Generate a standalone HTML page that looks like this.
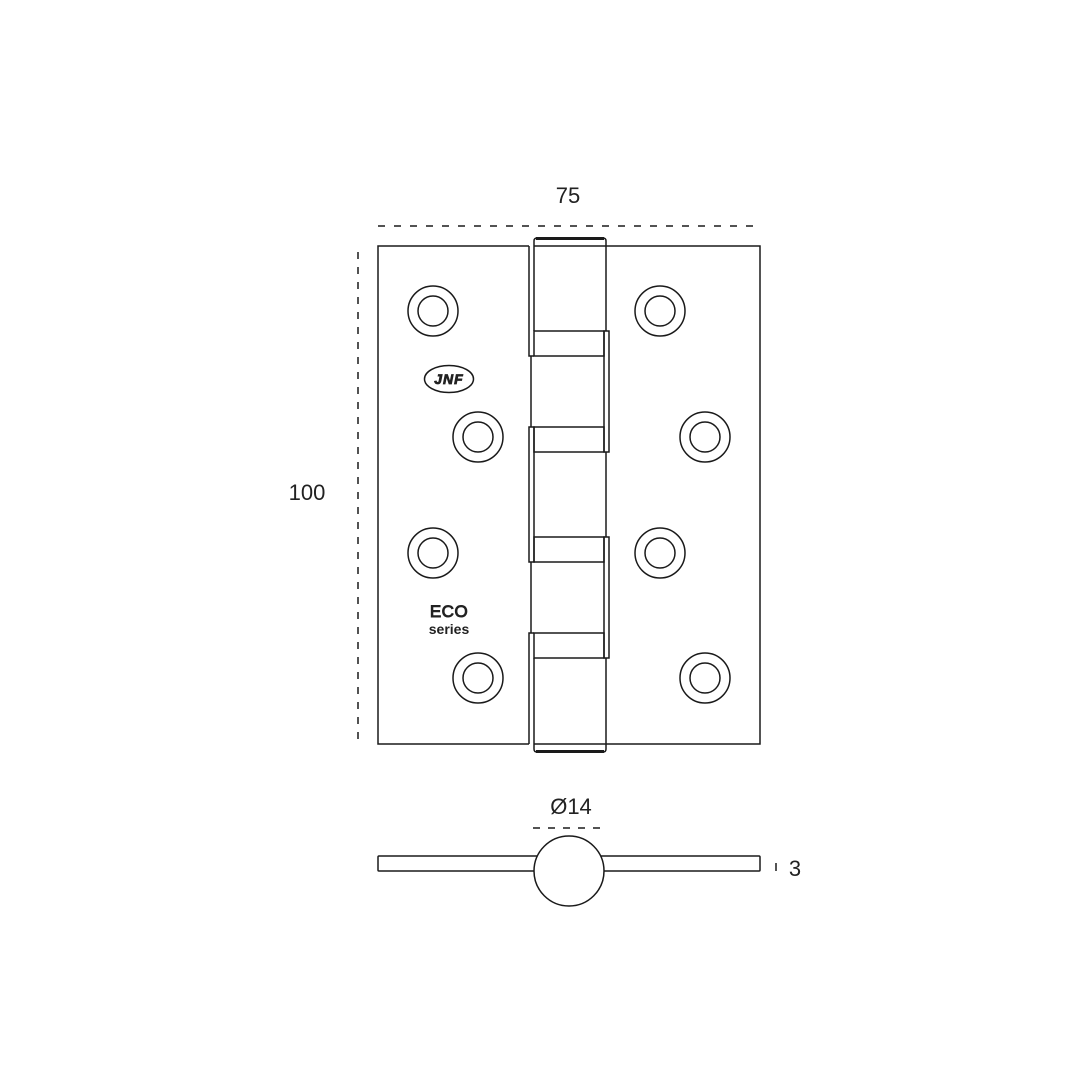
<!DOCTYPE html>
<html><head><meta charset="utf-8"><style>
html,body{margin:0;padding:0;background:#fff}
svg{display:block}
text{font-family:"Liberation Sans",sans-serif;fill:#222}
</style></head><body>
<svg width="1088" height="1088" viewBox="0 0 1088 1088" xmlns="http://www.w3.org/2000/svg">
<g fill="none" stroke="#1a1a1a" stroke-width="1.5">
<!-- dimension lines -->
<line x1="378" y1="226" x2="758" y2="226" stroke-dasharray="7,9"/>
<line x1="358" y1="252" x2="358" y2="744" stroke-dasharray="7,8"/>
<line x1="533" y1="828" x2="607" y2="828" stroke-dasharray="7,8"/>
<line x1="776" y1="863" x2="776" y2="871"/>
<!-- leaves -->
<polyline points="529,246 378,246 378,744 529,744"/>
<polyline points="606,246 760,246 760,744 606,744"/>
<line x1="534" y1="246" x2="606" y2="246"/>
<line x1="534" y1="744" x2="606" y2="744"/>
<!-- top knuckle -->
<path d="M534,331 L534,241 Q534,238 537,238 L603,238 Q606,238 606,241 L606,331"/>
<line x1="536" y1="238.5" x2="604" y2="238.5" stroke-width="3"/>
<!-- left strip top -->
<polyline points="529,246 529,356 534,356"/>
<!-- band 1 -->
<rect x="534" y="331" width="70" height="25"/>
<rect x="604" y="331" width="5" height="121"/>
<line x1="531" y1="356" x2="531" y2="427"/>
<!-- band 2 -->
<rect x="534" y="427" width="70" height="25"/>
<rect x="529" y="427" width="5" height="135"/>
<line x1="606" y1="452" x2="606" y2="537"/>
<!-- band 3 -->
<rect x="534" y="537" width="70" height="25"/>
<rect x="604" y="537" width="5" height="121"/>
<line x1="531" y1="562" x2="531" y2="633"/>
<!-- band 4 -->
<rect x="534" y="633" width="70" height="25"/>
<polyline points="534,633 529,633 529,744"/>
<!-- bottom knuckle -->
<path d="M534,658 L534,749 Q534,752 537,752 L603,752 Q606,752 606,749 L606,658"/>
<line x1="536" y1="751.5" x2="604" y2="751.5" stroke-width="3"/>
<!-- holes -->
<g>
<circle cx="433" cy="311" r="25"/><circle cx="433" cy="311" r="15"/>
<circle cx="478" cy="437" r="25"/><circle cx="478" cy="437" r="15"/>
<circle cx="433" cy="553" r="25"/><circle cx="433" cy="553" r="15"/>
<circle cx="478" cy="678" r="25"/><circle cx="478" cy="678" r="15"/>
<circle cx="660" cy="311" r="25"/><circle cx="660" cy="311" r="15"/>
<circle cx="705" cy="437" r="25"/><circle cx="705" cy="437" r="15"/>
<circle cx="660" cy="553" r="25"/><circle cx="660" cy="553" r="15"/>
<circle cx="705" cy="678" r="25"/><circle cx="705" cy="678" r="15"/>
</g>
<!-- JNF logo -->
<ellipse cx="449" cy="379" rx="24.5" ry="13.5"/>
<!-- end view -->
<rect x="378" y="856" width="382" height="15" rx="1"/>
<circle cx="569" cy="871" r="35" fill="#fff"/>
</g>
<text x="449" y="384" font-size="14" font-weight="bold" text-anchor="middle" fill="#fff" stroke="#222" stroke-width="0.8" font-style="italic" letter-spacing="1">JNF</text>
<text x="449" y="617" font-size="17" text-anchor="middle" fill="#fff" stroke="#222" stroke-width="0.9" letter-spacing="0.5">ECO</text>
<text x="449" y="634" font-size="14" font-weight="bold" text-anchor="middle">series</text>
<text x="568" y="203" font-size="22" text-anchor="middle">75</text>
<text x="307" y="500" font-size="22" text-anchor="middle">100</text>
<text x="571" y="814" font-size="22" text-anchor="middle">Ø14</text>
<text x="795" y="876" font-size="22" text-anchor="middle">3</text>
</svg>
</body></html>
